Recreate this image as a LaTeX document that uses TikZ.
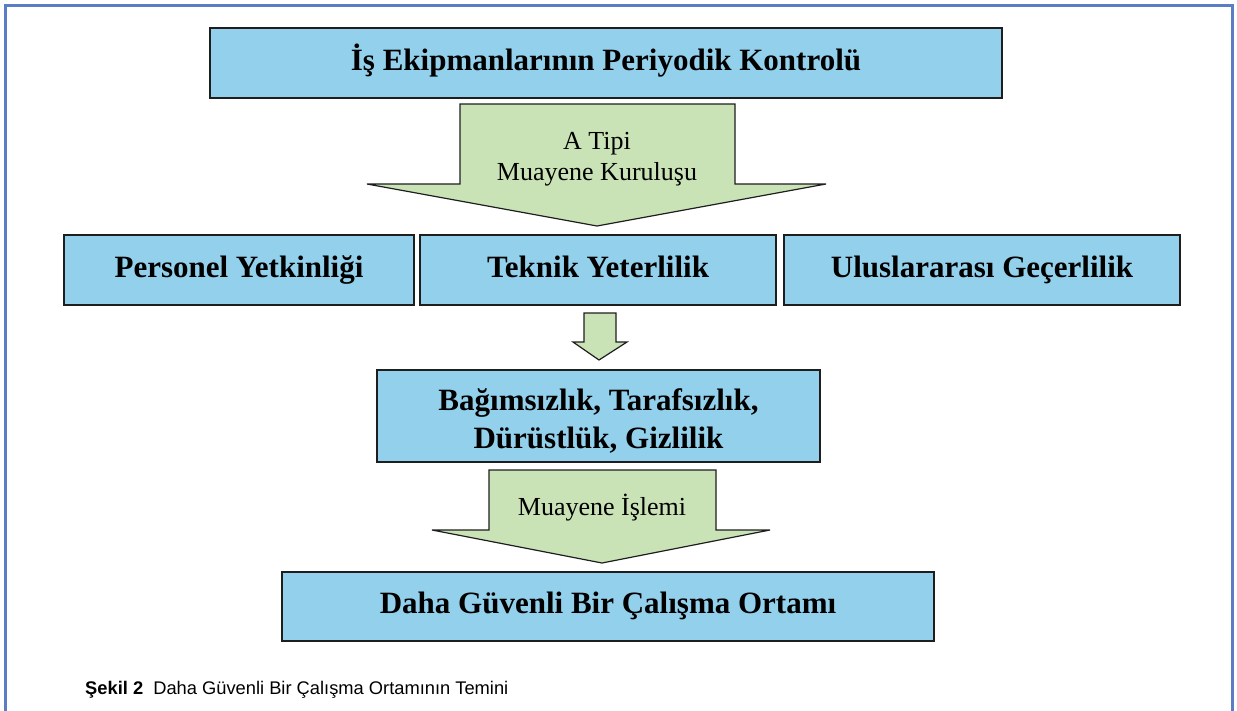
\documentclass[tikz,border=0pt]{standalone}
\usepackage{fontspec}
\setmainfont{Liberation Serif}
\newfontfamily\capfont{Liberation Sans}
\definecolor{frameblue}{HTML}{5B7DC6}
\definecolor{boxblue}{HTML}{93D0EC}
\definecolor{arrowgreen}{HTML}{C9E3B6}
\definecolor{edge}{HTML}{1E1E1E}
\begin{document}
\begin{tikzpicture}[x=1pt,y=-1pt,
  bluebox/.style={draw=edge,line width=1.8pt,fill=boxblue,inner sep=0pt,font=\bfseries\fontsize{31}{38}\selectfont,align=center,text height=24pt,text depth=10pt},
  boxtext/.style={inner sep=0pt,font=\bfseries\fontsize{31}{38}\selectfont,align=center},
  blockarrow/.style={draw=edge,line width=1.2pt,fill=arrowgreen,line join=miter},
  arrowtext/.style={font=\fontsize{26}{31}\selectfont,align=center,inner sep=0pt}]
\useasboundingbox (0,0) rectangle (1237,710);
% frame
\draw[frameblue,line width=3pt] (5.5,712) -- (5.5,5.5) -- (1232,5.5) -- (1232,712);
% top box
\node[bluebox,minimum width=792pt,minimum height=70pt] (top) at (606,63) {İş Ekipmanlarının Periyodik Kontrolü};
% big arrow 1
\draw[blockarrow] (460,104) -- (735,104) -- (735,184) -- (826,184) -- (597,226) -- (367,184) -- (460,184) -- cycle;
\node[arrowtext,anchor=base] (a1) at (597,149) {A Tipi};
\node[arrowtext,anchor=base] (a1b) at (597,180) {Muayene Kuruluşu};
% row boxes
\node[bluebox,minimum width=350pt,minimum height=70pt] (pers) at (239,270) {Personel Yetkinliği};
\node[bluebox,minimum width=356pt,minimum height=70pt] (tekn) at (598,270) {Teknik Yeterlilik};
\node[bluebox,minimum width=396pt,minimum height=70pt] (ulus) at (982,270) {Uluslararası Geçerlilik};
% small arrow
\draw[blockarrow] (584,313) -- (616,313) -- (616,342) -- (627,342) -- (599,360) -- (573,342) -- (584,342) -- cycle;
% middle box
\node[bluebox,minimum width=443pt,minimum height=92pt] (mid) at (598.5,416) {};
\node[boxtext,anchor=base] (midtext1) at (598.5,410) {Bağımsızlık, Tarafsızlık,};
\node[boxtext,anchor=base] (midtext2) at (598.5,448) {Dürüstlük, Gizlilik};
% big arrow 2
\draw[blockarrow] (489,470) -- (716,470) -- (716,530) -- (770,530) -- (602,563) -- (432,530) -- (489,530) -- cycle;
\node[arrowtext,anchor=base] (a2) at (602,515) {Muayene İşlemi};
% bottom box
\node[bluebox,minimum width=652pt,minimum height=69pt] (bot) at (608,606.5) {Daha Güvenli Bir Çalışma Ortamı};
% caption
\node[anchor=base west,inner sep=0pt,font=\capfont\fontsize{18.3}{21}\selectfont] (cap) at (85,694) {\textbf{Şekil 2}\ \ Daha Güvenli Bir Çalışma Ortamının Temini};
\end{tikzpicture}
\end{document}
